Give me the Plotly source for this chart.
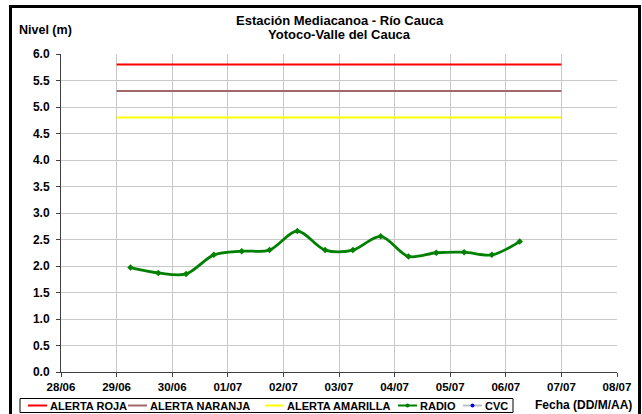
import plotly.graph_objects as go

# ---- data ----
radio_times = [
    "2012-06-29 06:00", "2012-06-29 18:00", "2012-06-30 06:00", "2012-06-30 18:00",
    "2012-07-01 06:00", "2012-07-01 18:00", "2012-07-02 06:00", "2012-07-02 18:00",
    "2012-07-03 06:00", "2012-07-03 18:00", "2012-07-04 06:00", "2012-07-04 18:00",
    "2012-07-05 06:00", "2012-07-05 18:00", "2012-07-06 06:00",
]
radio_levels = [1.97, 1.87, 1.85, 2.21, 2.28, 2.30, 2.66, 2.30, 2.30, 2.56, 2.18, 2.25, 2.26, 2.21, 2.46]

alert_span = ["2012-06-29 00:00", "2012-07-07 00:00"]
alerta_roja = [5.8, 5.8]
alerta_naranja = [5.3, 5.3]
alerta_amarilla = [4.8, 4.8]

cvc_times = []
cvc_levels = []

tick_dates = ["2012-06-28", "2012-06-29", "2012-06-30", "2012-07-01", "2012-07-02", "2012-07-03",
              "2012-07-04", "2012-07-05", "2012-07-06", "2012-07-07", "2012-07-08"]
tick_labels = ["28/06", "29/06", "30/06", "01/07", "02/07", "03/07",
               "04/07", "05/07", "06/07", "07/07", "08/07"]
y_ticks = [0.0, 0.5, 1.0, 1.5, 2.0, 2.5, 3.0, 3.5, 4.0, 4.5, 5.0, 5.5, 6.0]
y_labels = ["0.0", "0.5", "1.0", "1.5", "2.0", "2.5", "3.0", "3.5", "4.0", "4.5", "5.0", "5.5", "6.0"]

legend_names = ["ALERTA ROJA", "ALERTA NARANJA", "ALERTA AMARILLA", "RADIO", "CVC"]

# ---- styles ----
FONT = "Arial"
RED = "#ff0000"
ORANGE = "#a06868"
YELLOW = "#ffff00"
GREEN = "#008000"
GRAY = "#c0c0c0"
BLUE = "#0000ff"

W, H = 642, 414
ML, MR, MT, MB = 61, 25, 54, 42
PW = W - ML - MR
PH = H - MT - MB


def px(x):
    return (x - ML) / PW


def py(y):
    return (H - MB - y) / PH


fig = go.Figure()
fig.add_trace(go.Scatter(x=alert_span, y=alerta_roja, mode="lines",
                         line=dict(color=RED, width=2), name=legend_names[0], showlegend=False))
fig.add_trace(go.Scatter(x=alert_span, y=alerta_naranja, mode="lines",
                         line=dict(color=ORANGE, width=2), name=legend_names[1], showlegend=False))
fig.add_trace(go.Scatter(x=alert_span, y=alerta_amarilla, mode="lines",
                         line=dict(color=YELLOW, width=2), name=legend_names[2], showlegend=False))
fig.add_trace(go.Scatter(x=radio_times, y=radio_levels, mode="lines+markers",
                         line=dict(color=GREEN, width=2.8, shape="spline", smoothing=0.9),
                         marker=dict(color=GREEN, size=5, symbol="diamond"),
                         name=legend_names[3], showlegend=False))
fig.add_trace(go.Scatter(x=cvc_times, y=cvc_levels, mode="lines+markers",
                         line=dict(color=GRAY, width=2), marker=dict(color=BLUE, size=4),
                         name=legend_names[4], showlegend=False))

shapes = []
annotations = []

# outer black frame
shapes.append(dict(type="rect", xref="paper", yref="paper",
                   x0=px(10.5), x1=px(639.5), y0=py(420), y1=py(6.5),
                   line=dict(color="black", width=3), fillcolor="rgba(0,0,0,0)", layer="above"))

BOLD = dict(family=FONT, color="black", weight="bold")

# titles
annotations.append(dict(text="Estación Mediacanoa - Río Cauca", xref="paper", yref="paper",
                        x=px(340), y=py(21), showarrow=False, xanchor="center", yanchor="middle",
                        font=dict(size=13, **BOLD)))
annotations.append(dict(text="Yotoco-Valle del Cauca", xref="paper", yref="paper",
                        x=px(339), y=py(35), showarrow=False, xanchor="center", yanchor="middle",
                        font=dict(size=13, **BOLD)))
annotations.append(dict(text="Nivel (m)", xref="paper", yref="paper",
                        x=px(17), y=py(30), showarrow=False, xanchor="left", yanchor="middle",
                        font=dict(size=12.5, **BOLD)))
annotations.append(dict(text="Fecha (DD/M/AA)", xref="paper", yref="paper",
                        x=px(533), y=py(405), showarrow=False, xanchor="left", yanchor="middle",
                        font=dict(size=12, **BOLD)))

# legend box
shapes.append(dict(type="rect", xref="paper", yref="paper",
                   x0=px(20), x1=px(513), y0=py(412.5), y1=py(398.5),
                   line=dict(color="black", width=1), fillcolor="white", layer="above"))
legend_items = [
    (28, 47, 48, RED, None),
    (128, 147, 148, ORANGE, None),
    (265, 283, 285, YELLOW, None),
    (398, 417, 418, GREEN, GREEN),
    (463, 482, 483, GRAY, BLUE),
]
LY = 405.5
for (a, b, t, col, mcol), name in zip(legend_items, legend_names):
    shapes.append(dict(type="line", xref="paper", yref="paper", x0=px(a), x1=px(b),
                       y0=py(LY), y1=py(LY), line=dict(color=col, width=2), layer="above"))
    if mcol is not None:
        m = (a + b) / 2
        shapes.append(dict(type="circle", xref="paper", yref="paper",
                           x0=px(m - 2), x1=px(m + 2), y0=py(LY + 2), y1=py(LY - 2),
                           line=dict(color=mcol, width=0), fillcolor=mcol, layer="above"))
    annotations.append(dict(text=name, xref="paper", yref="paper",
                            x=px(t), y=py(LY), showarrow=False, xanchor="left", yanchor="middle",
                            font=dict(size=11, **BOLD)))

fig.update_layout(
    width=W, height=H,
    margin=dict(l=ML, r=MR, t=MT, b=MB, pad=0),
    paper_bgcolor="white", plot_bgcolor="white",
    showlegend=False,
    font=dict(family=FONT, size=11, color="black"),
    shapes=shapes, annotations=annotations,
    xaxis=dict(type="date", range=[tick_dates[0], tick_dates[-1]],
               tickvals=tick_dates, ticktext=["<b>" + t + "</b>" for t in tick_labels],
               showgrid=True, gridcolor="#c8c8c8", gridwidth=1,
               showline=True, linecolor="#404040", linewidth=1,
               ticks="outside", ticklen=4, tickcolor="#404040",
               tickfont=dict(size=11.5, **BOLD),
               zeroline=False, fixedrange=True),
    yaxis=dict(range=[0, 6], tickvals=y_ticks, ticktext=["<b>" + t + "</b>" for t in y_labels],
               showgrid=True, gridcolor="#c8c8c8", gridwidth=1,
               showline=True, linecolor="#404040", linewidth=1,
               ticks="outside", ticklen=4, tickcolor="#404040",
               tickfont=dict(size=12, **BOLD), ticklabelstandoff=4,
               zeroline=False, fixedrange=True),
)

fig.write_html("out.html", config={"displayModeBar": False},
               post_script="document.body.style.margin='0';document.body.style.overflow='hidden';")
